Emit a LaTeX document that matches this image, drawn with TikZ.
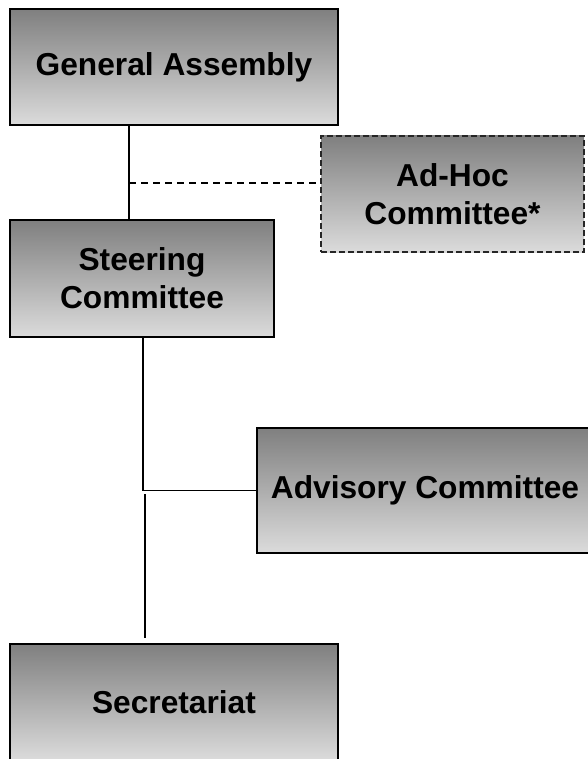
\documentclass[tikz,border=0pt]{standalone}
\usepackage{fontspec}
\setmainfont{Liberation Sans}
\usepackage{tikz}
\definecolor{boxtop}{gray}{0.50}
\definecolor{boxbottom}{gray}{0.86}

\begin{document}
\begin{tikzpicture}[x=1pt, y=-1pt,
    every node/.style={font=\bfseries\fontsize{31.7}{38}\selectfont, align=center,
                       inner sep=0pt, outer sep=0pt},
    unit/.style={draw=black, line width=1.5pt, top color=boxtop, bottom color=boxbottom},
    adhoc/.style={unit, draw=black!85, dash pattern=on 6pt off 3pt},
    link/.style={line width=1.3pt}]
    \useasboundingbox (0,0) rectangle (587,759);

    \node[unit, minimum width=328, minimum height=116] (GA) at (174, 67) {General Assembly};
    \node[unit, minimum width=264, minimum height=117] (SC) at (142, 278.5) {Steering\\Committee};
    \node[adhoc, minimum width=263, minimum height=116] (AH) at (452.5, 194) {Ad-Hoc\\Committee*};
    \node[unit, minimum width=336, minimum height=125] (AC) at (425, 490.5) {Advisory Committee};
    \node[unit, minimum width=328, minimum height=116] (SE) at (174, 702) {Secretariat};

    \coordinate (J1) at (129, 183);
    \coordinate (J2) at (143, 490.5);
    \coordinate (J3) at (145, 494);

    \draw[link] (GA.south -| J1) -- (SC.north -| J1);
    \draw[link, dash pattern=on 7pt off 5pt] (J1) -- (J1 -| AH.west);
    \draw[link] (SC.south -| J2) -- (J2) -- (AC.west);
    \draw[link] (J3) -- ([yshift=6pt]SE.north -| J3);
  \end{tikzpicture}
\end{document}
